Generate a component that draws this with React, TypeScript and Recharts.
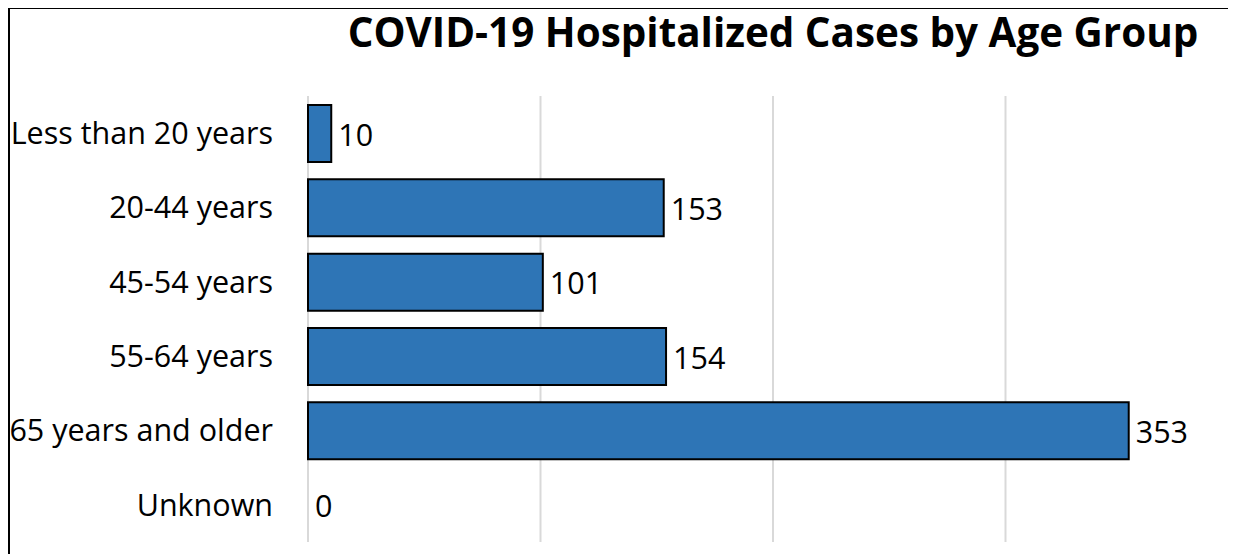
import React from 'react';
import { BarChart, Bar, XAxis, YAxis, CartesianGrid, Rectangle } from 'recharts';

const categories = ['Less than 20 years', '20-44 years', '45-54 years', '55-64 years', '65 years and older', 'Unknown'];
const cases = [10, 153, 101, 154, 353, 0];
const xTicks = [0, 100, 200, 300, 400];
const title = 'COVID-19 Hospitalized Cases by Age Group';

const data = categories.map((c, i) => ({ name: c, value: cases[i] }));

const FONT = '"Open Sans", sans-serif';
const LABEL_SIZE = 30.5;

const renderValueLabel = (props: any) => {
  const { x, y, width, height, value } = props;
  const w = Number(value) > 0 ? Number(width || 0) : 0;
  return (
    <text
      x={Number(x) + w + 7}
      y={Number(y) + Number(height) / 2}
      dominantBaseline="central"
      fill="#000"
      fontSize={LABEL_SIZE}
      fontFamily={FONT}
    >
      {value}
    </text>
  );
};

const renderBarShape = (props: any) => {
  const v = Number(props?.payload?.value ?? props?.value);
  if (!(v > 0)) return <g />;
  return <Rectangle {...props} />;
};

const gridGen = (args: any) => {
  const scale = args?.xAxis?.scale;
  if (scale && typeof scale === 'function') return xTicks.map((t) => scale(t));
  if (scale && typeof scale.map === 'function') return xTicks.map((t) => scale.map(t));
  return [];
};

export default function App() {
  return (
    <div style={{ position: 'relative', marginTop: -1, width: 1228, height: 547 }}>
      <div
        style={{
          position: 'absolute',
          left: 0,
          top: 0,
          width: 1228,
          height: 547,
          overflow: 'hidden',
          borderTop: '2px solid #000',
          borderLeft: '2px solid #000',
          boxSizing: 'border-box',
          background: '#fff',
        }}
      >
        <BarChart
          width={1240}
          height={545}
          data={data}
          layout="vertical"
          margin={{ top: 87, right: 12, bottom: 12, left: 0 }}
          barSize={57}
        >
          <CartesianGrid
            vertical
            horizontal={false}
            stroke="#d9d9d9"
            strokeWidth={2}
            verticalCoordinatesGenerator={gridGen}
          />
          <XAxis
            type="number"
            domain={[0, 400]}
            ticks={xTicks}
            axisLine={false}
            tickLine={false}
            tick={false}
            height={0}
          />
          <YAxis
            type="category"
            dataKey="name"
            width={298}
            axisLine={false}
            tickLine={false}
            tickSize={0}
            tickMargin={35}
            tick={{ fill: '#000', fontSize: LABEL_SIZE, fontFamily: FONT }}
          />
          <Bar
            dataKey="value"
            fill="#2e75b6"
            stroke="#000"
            strokeWidth={2}
            minPointSize={1}
            isAnimationActive={false}
            shape={renderBarShape}
            label={renderValueLabel}
          />
        </BarChart>
      </div>
      <div
        style={{
          position: 'absolute',
          left: 315,
          top: -3,
          width: 900,
          textAlign: 'center',
          fontFamily: FONT,
          fontWeight: 700,
          fontSize: 40.4,
          lineHeight: 'normal',
          color: '#000',
          whiteSpace: 'nowrap',
        }}
      >
        {title}
      </div>
    </div>
  );
}
